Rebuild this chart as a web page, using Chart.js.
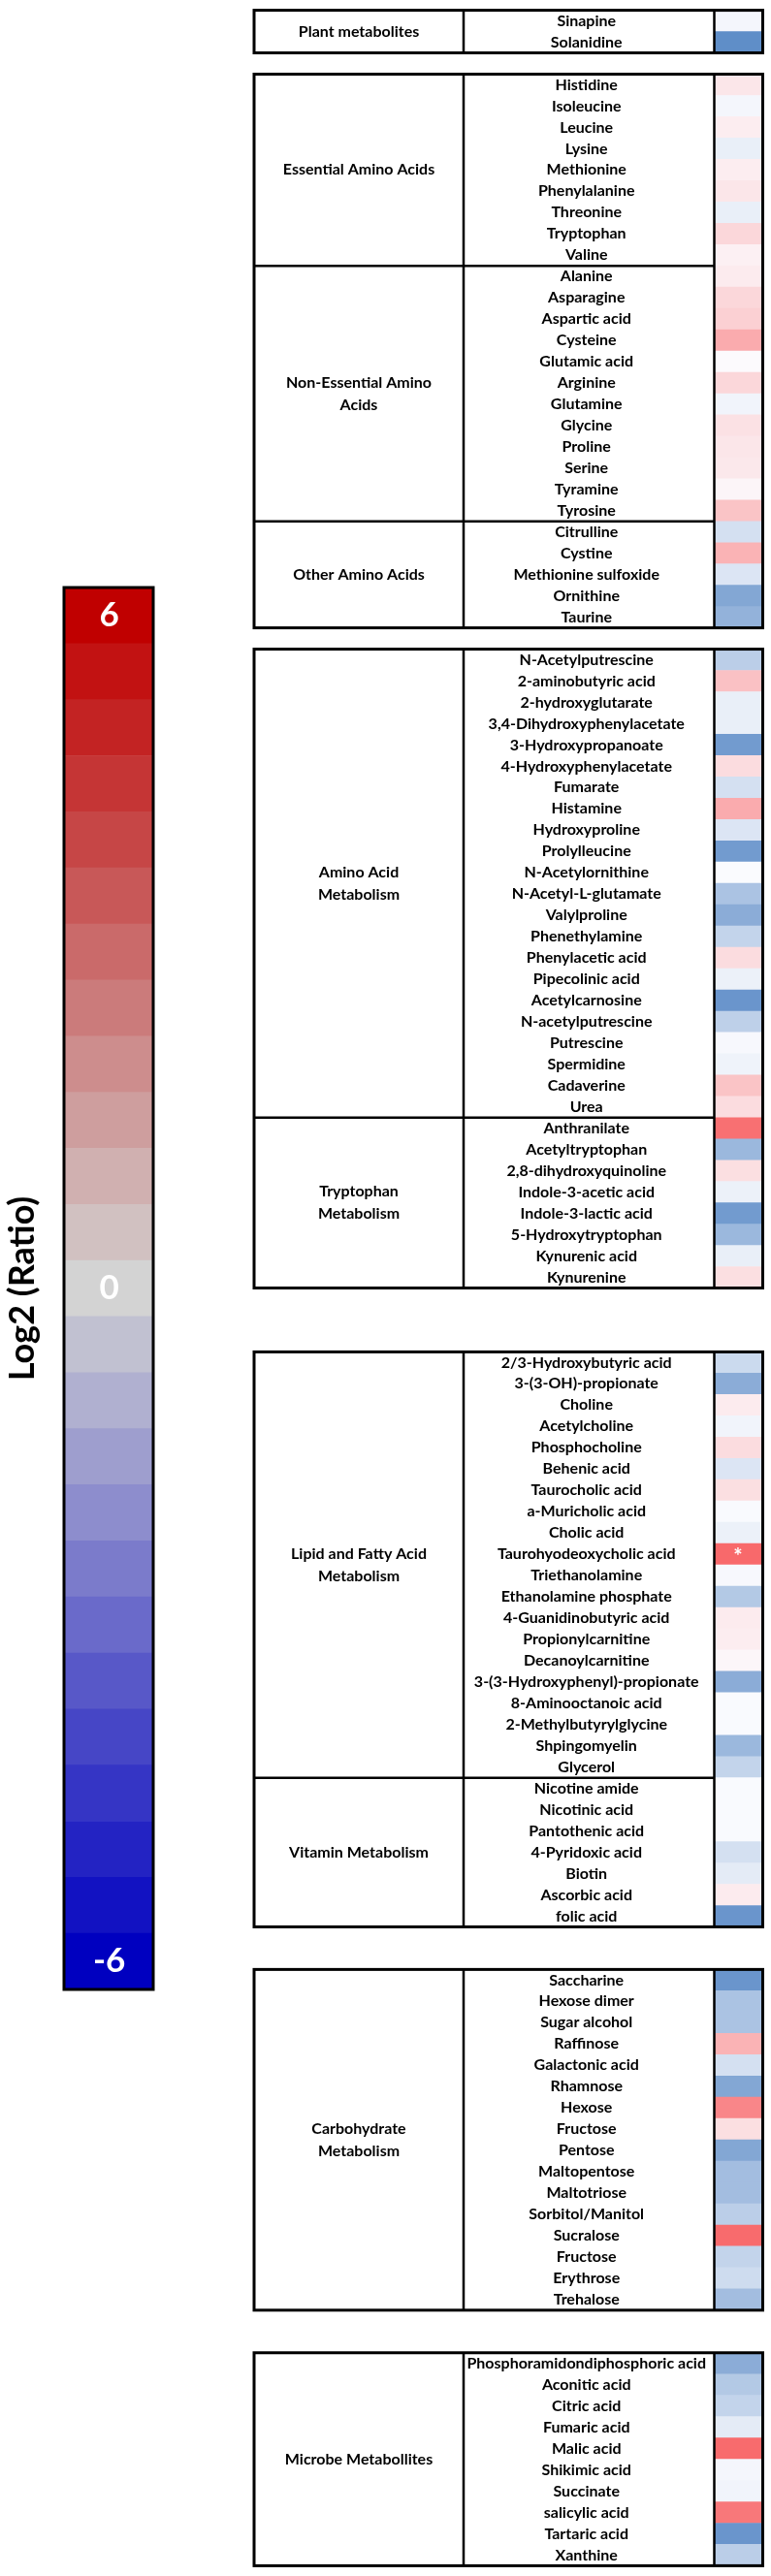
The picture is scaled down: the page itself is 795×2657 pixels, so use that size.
<!DOCTYPE html>
<html lang="en">
<head>
<meta charset="UTF-8">
<title>Log2 (Ratio) heatmap</title>
<script src="https://cdn.jsdelivr.net/npm/chart.js"></script>
<style>
  body { margin: 0; background: #fff; }
  #wrap { position: relative; width: 795px; height: 2657px; }
  #tableChart { position: absolute; left: 0; top: 0; }
  #barChart { position: absolute; left: 0; top: 0; }
</style>
</head>
<body>
<div id="wrap">
  <canvas id="tableChart" width="795" height="2657"></canvas>
  <canvas id="barChart" width="200" height="2657"></canvas>
</div>

<script>
// ---- data (log2 ratio) ----
var plantNames = ['Sinapine', 'Solanidine'];
var plantValues = [-0.15, -2.9];

var essentialNames = ['Histidine', 'Isoleucine', 'Leucine', 'Lysine', 'Methionine', 'Phenylalanine', 'Threonine', 'Tryptophan', 'Valine'];
var essentialValues = [0.45, -0.15, 0.3, -0.35, 0.3, 0.45, -0.35, 0.75, 0.25];

var nonEssentialNames = ['Alanine', 'Asparagine', 'Aspartic acid', 'Cysteine', 'Glutamic acid', 'Arginine', 'Glutamine', 'Glycine', 'Proline', 'Serine', 'Tyramine', 'Tyrosine'];
var nonEssentialValues = [0.35, 0.75, 0.9, 1.65, 0.05, 0.75, -0.2, 0.55, 0.45, 0.4, 0.15, 1.15];

var otherAminoNames = ['Citrulline', 'Cystine', 'Methionine sulfoxide', 'Ornithine', 'Taurine'];
var otherAminoValues = [-0.75, 1.5, -0.6, -2.25, -1.95];

var aaMetabolismNames = ['N-Acetylputrescine', '2-aminobutyric acid', '2-hydroxyglutarate', '3,4-Dihydroxyphenylacetate', '3-Hydroxypropanoate', '4-Hydroxyphenylacetate', 'Fumarate', 'Histamine', 'Hydroxyproline', 'Prolylleucine', 'N-Acetylornithine', 'N-Acetyl-L-glutamate', 'Valylproline', 'Phenethylamine', 'Phenylacetic acid', 'Pipecolinic acid', 'Acetylcarnosine', 'N-acetylputrescine', 'Putrescine', 'Spermidine', 'Cadaverine', 'Urea'];
var aaMetabolismValues = [-1.2, 1.2, -0.35, -0.35, -2.55, 0.65, -0.75, 1.65, -0.6, -2.55, -0.03, -1.5, -2.1, -1.05, 0.65, -0.3, -2.7, -1.15, -0.1, -0.25, 1.15, 0.65];

var tryptophanNames = ['Anthranilate', 'Acetyltryptophan', '2,8-dihydroxyquinoline', 'Indole-3-acetic acid', 'Indole-3-lactic acid', '5-Hydroxytryptophan', 'Kynurenic acid', 'Kynurenine'];
var tryptophanValues = [2.85, -1.8, 0.6, -0.3, -2.55, -1.8, -0.35, 0.6];

var lipidNames = ['2/3-Hydroxybutyric acid', '3-(3-OH)-propionate', 'Choline', 'Acetylcholine', 'Phosphocholine', 'Behenic acid', 'Taurocholic acid', 'a-Muricholic acid', 'Cholic acid', 'Taurohyodeoxycholic acid', 'Triethanolamine', 'Ethanolamine phosphate', '4-Guanidinobutyric acid', 'Propionylcarnitine', 'Decanoylcarnitine', '3-(3-Hydroxyphenyl)-propionate', '8-Aminooctanoic acid', '2-Methylbutyrylglycine', 'Shpingomyelin', 'Glycerol'];
var lipidValues = [-0.9, -2.1, 0.35, -0.2, 0.65, -0.6, 0.6, -0.05, -0.3, 3.0, -0.1, -1.35, 0.35, 0.3, 0.12, -2.1, -0.05, -0.05, -1.8, -1.05];

var vitaminNames = ['Nicotine amide', 'Nicotinic acid', 'Pantothenic acid', '4-Pyridoxic acid', 'Biotin', 'Ascorbic acid', 'folic acid'];
var vitaminValues = [-0.05, -0.05, -0.05, -0.75, -0.45, 0.35, -2.7];

var carbNames = ['Saccharine', 'Hexose dimer', 'Sugar alcohol', 'Raffinose', 'Galactonic acid', 'Rhamnose', 'Hexose', 'Fructose', 'Pentose', 'Maltopentose', 'Maltotriose', 'Sorbitol/Manitol', 'Sucralose', 'Fructose', 'Erythrose', 'Trehalose'];
var carbValues = [-2.7, -1.5, -1.5, 1.5, -0.75, -2.25, 2.4, 0.6, -2.25, -1.65, -1.65, -1.2, 2.95, -1.05, -0.85, -1.65];

var microbeNames = ['Phosphoramidondiphosphoric acid', 'Aconitic acid', 'Citric acid', 'Fumaric acid', 'Malic acid', 'Shikimic acid', 'Succinate', 'salicylic acid', 'Tartaric acid', 'Xanthine'];
var microbeValues = [-2.1, -1.35, -1.05, -0.45, 2.95, -0.15, -0.2, 2.7, -2.7, -1.2];

var groupLabels = ['Plant metabolites', 'Essential Amino Acids', 'Non-Essential Amino\nAcids', 'Other Amino Acids', 'Amino Acid\nMetabolism', 'Tryptophan\nMetabolism', 'Lipid and Fatty Acid\nMetabolism', 'Vitamin Metabolism', 'Carbohydrate\nMetabolism', 'Microbe Metabollites'];
var groupNames = [plantNames, essentialNames, nonEssentialNames, otherAminoNames, aaMetabolismNames, tryptophanNames, lipidNames, vitaminNames, carbNames, microbeNames];
var groupValues = [plantValues, essentialValues, nonEssentialValues, otherAminoValues, aaMetabolismValues, tryptophanValues, lipidValues, vitaminValues, carbValues, microbeValues];

var starred = ['Taurohyodeoxycholic acid'];

// colour bar levels and the ones that carry a label
var barLevels = [6, 5.5, 5, 4.5, 4, 3.5, 3, 2.5, 2, 1.5, 1, 0.5, 0, -0.5, -1, -1.5, -2, -2.5, -3, -3.5, -4, -4.5, -5, -5.5, -6];
var barTicks = ['6', '0', '-6'];

// ---- layout ----
var boxOfGroup = [0, 1, 1, 1, 2, 2, 3, 3, 4, 5];   // which outlined box each group sits in
var gapRowsBefore = [0, 1, 1, 3, 2, 2];             // empty rows before each box
var FONT = 'Lato, "Open Sans", sans-serif';

function mix(a, b, t) {
    return 'rgb(' + [0, 1, 2].map(function (k) { return Math.round(a[k] + (b[k] - a[k]) * t); }).join(',') + ')';
}

function cellColour(v) {
    var t = Math.max(-1, Math.min(1, v / 3));
    return t >= 0 ? mix([252, 252, 255], [248, 105, 107], t) : mix([252, 252, 255], [90, 138, 198], -t);
}

function barColour(v) {
    var t = v / 6;
    return t >= 0 ? mix([211, 211, 211], [192, 0, 0], t) : mix([211, 211, 211], [0, 0, 192], -t);
}

// build the row list: one category per row, empty ones for the gaps
var rowLabels = [];
var rowValues = [];
var groupRange = [];
var boxRange = [];
var lastBox = -1;
for (var g = 0; g < groupNames.length; g++) {
    var b = boxOfGroup[g];
    if (b !== lastBox) {
        for (var k = 0; k < gapRowsBefore[b]; k++) {
            rowLabels.push('');
            rowValues.push(null);
        }
        boxRange[b] = [rowLabels.length, rowLabels.length];
        lastBox = b;
    }
    var first = rowLabels.length;
    for (var i = 0; i < groupNames[g].length; i++) {
        rowLabels.push(groupNames[g][i]);
        rowValues.push(groupValues[g][i]);
    }
    groupRange[g] = [first, rowLabels.length - 1];
    boxRange[b][1] = rowLabels.length - 1;
}

var tablePlugin = {
    id: 'tableLines',
    afterDatasetsDraw: function (chart) {
        var ctx = chart.ctx;
        var y = chart.scales.y;
        var area = chart.chartArea;
        var half = (y.getPixelForValue(1) - y.getPixelForValue(0)) / 2;
        var left = 262, nameLeft = 478, cellLeft = area.left - 0.5, right = area.right + 1.5;

        ctx.save();
        ctx.strokeStyle = '#000';

        // star marks
        ctx.fillStyle = '#fff';
        ctx.font = 'bold 22px ' + FONT;
        ctx.textAlign = 'center';
        ctx.textBaseline = 'middle';
        rowLabels.forEach(function (name, idx) {
            if (starred.indexOf(name) >= 0) {
                ctx.fillText('*', (area.left + area.right) / 2, y.getPixelForValue(idx) + 3);
            }
        });

        // group separators
        ctx.lineWidth = 2.5;
        groupRange.forEach(function (r, g) {
            if (g > 0 && boxOfGroup[g] === boxOfGroup[g - 1]) {
                var yy = y.getPixelForValue(r[0]) - half;
                ctx.beginPath();
                ctx.moveTo(left, yy);
                ctx.lineTo(cellLeft, yy);
                ctx.stroke();
            }
        });

        boxRange.forEach(function (r) {
            var top = y.getPixelForValue(r[0]) - half;
            var bottom = y.getPixelForValue(r[1]) + half;
            ctx.lineWidth = 2.5;
            ctx.beginPath();
            ctx.moveTo(nameLeft, top); ctx.lineTo(nameLeft, bottom);
            ctx.moveTo(cellLeft, top); ctx.lineTo(cellLeft, bottom);
            ctx.stroke();
            ctx.lineWidth = 3;
            ctx.strokeRect(left, top, right - left, bottom - top);
        });

        // group labels
        ctx.fillStyle = '#000';
        ctx.font = 'bold 16px ' + FONT;
        groupLabels.forEach(function (label, g) {
            var lines = label.split('\n');
            var mid = (y.getPixelForValue(groupRange[g][0]) + y.getPixelForValue(groupRange[g][1])) / 2;
            lines.forEach(function (line, n) {
                ctx.fillText(line, (left + nameLeft) / 2, mid + (n - (lines.length - 1) / 2) * 23);
            });
        });
        ctx.restore();
    }
};

new Chart(document.getElementById('tableChart'), {
    type: 'bar',
    data: {
        labels: rowLabels,
        datasets: [{
            data: rowValues.map(function (v) { return v === null ? null : [0, 1]; }),
            backgroundColor: rowValues.map(function (v) { return v === null ? 'rgba(0,0,0,0)' : cellColour(v); }),
            barPercentage: 1,
            categoryPercentage: 1,
            borderWidth: 0
        }]
    },
    options: {
        indexAxis: 'y',
        responsive: false,
        animation: false,
        layout: { padding: { left: 479, right: 10, top: 9, bottom: 8 } },
        plugins: { legend: { display: false }, tooltip: { enabled: false } },
        scales: {
            x: { display: false, min: 0, max: 1 },
            y: {
                position: 'left',
                grid: { display: false },
                border: { display: false },
                ticks: {
                    autoSkip: false,
                    crossAlign: 'center',
                    padding: 1,
                    color: '#000',
                    font: { family: FONT, size: 16, weight: 'bold' }
                },
                afterFit: function (scale) { scale.width = 258; }
            }
        }
    },
    plugins: [tablePlugin]
});

var barFrame = {
    id: 'barFrame',
    afterDraw: function (chart) {
        var a = chart.chartArea;
        var ctx = chart.ctx;
        ctx.save();
        ctx.lineWidth = 3;
        ctx.strokeStyle = '#000';
        ctx.strokeRect(a.left, a.top, a.right - a.left, a.bottom - a.top);
        ctx.restore();
    }
};

new Chart(document.getElementById('barChart'), {
    type: 'bar',
    data: {
        labels: barLevels.map(String),
        datasets: [{
            data: barLevels.map(function () { return [0, 1]; }),
            backgroundColor: barLevels.map(barColour),
            barPercentage: 1,
            categoryPercentage: 1,
            borderWidth: 0
        }]
    },
    options: {
        indexAxis: 'y',
        responsive: false,
        animation: false,
        layout: { padding: { left: 0, right: 42, top: 606, bottom: 605 } },
        plugins: { legend: { display: false }, tooltip: { enabled: false } },
        scales: {
            x: { display: false, min: 0, max: 1 },
            y: {
                position: 'left',
                grid: { display: false },
                border: { display: false },
                ticks: {
                    z: 1,
                    autoSkip: false,
                    mirror: true,
                    crossAlign: 'center',
                    padding: 30,
                    color: '#fff',
                    font: { family: FONT, size: 35, weight: 'bold' },
                    callback: function (v, i) {
                        var s = String(barLevels[i]);
                        return barTicks.indexOf(s) >= 0 ? s : '';
                    }
                },
                title: {
                    display: true,
                    text: 'Log2 (Ratio)',
                    color: '#000',
                    font: { family: FONT, size: 36, weight: 'bold' },
                    padding: { top: 2, bottom: 0 }
                },
                afterFit: function (scale) { scale.width = 66; }
            }
        }
    },
    plugins: [barFrame]
});
</script>
</body>
</html>
